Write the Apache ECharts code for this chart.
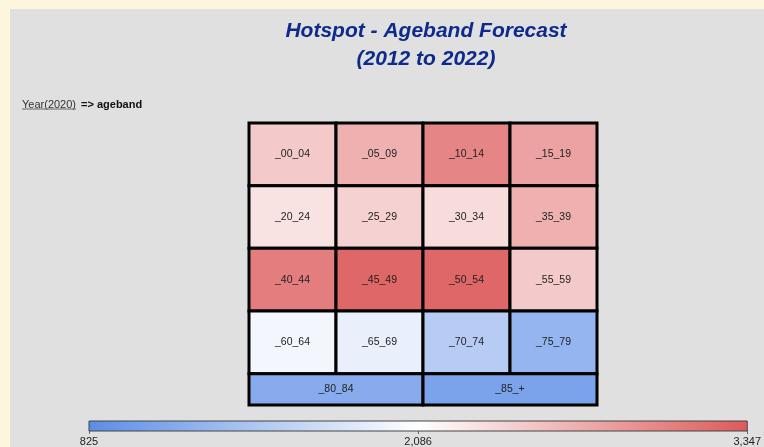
<!DOCTYPE html>
<html>
<head>
<meta charset="utf-8">
<script src="https://cdn.jsdelivr.net/npm/echarts@6/dist/echarts.min.js"></script>
<style>
html,body{margin:0;padding:0;background:#fdf5dc;}
#c{width:764px;height:447px;}
</style>
</head>
<body>
<div id="c"></div>
<script>
// ---- data ----
const ageBands = ['_00_04','_05_09','_10_14','_15_19',
                  '_20_24','_25_29','_30_34','_35_39',
                  '_40_44','_45_49','_50_54','_55_59',
                  '_60_64','_65_69','_70_74','_75_79',
                  '_80_84','_85_+'];
const values = [2500, 2690, 3020, 2800,
                2310, 2440, 2360, 2690,
                3070, 3250, 3250, 2500,
                1990, 1915, 1525, 1265,
                1160, 1065];
const scaleMin = 825;
const scaleMax = 3347;
const scaleTicks = [825, 2086, 3347];
const rampColors = ['#5b8de6', '#ffffff', '#dd5a5a'];

// ---- layout of the hotspot cells (4 per row, last row of 2 wide half-height cells) ----
const cellData = ageBands.map((name, i) => {
  if (i < 16) return [i % 4, Math.floor(i / 4), 1, 1, values[i], name];
  return [(i - 16) * 2, 4, 2, 0.5, values[i], name];
});

const chart = echarts.init(document.getElementById('c'), null, {renderer: 'canvas'});
const fmt = v => Math.round(v).toLocaleString('en-US');

chart.setOption({
  backgroundColor: '#fdf5dc',
  animation: false,
  graphic: [
    {type: 'rect', z: -10, left: 10, top: 9, shape: {width: 800, height: 500}, style: {fill: '#e0e0e0'}},
    {type: 'line', z: 10, shape: {x1: 22, y1: 109, x2: 76, y2: 109}, style: {stroke: '#666', lineWidth: 1}}
  ],
  title: [
    {
      text: 'Hotspot - Ageband Forecast\n(2012 to 2022)',
      left: 421, top: 12, textAlign: 'center',
      textStyle: {fontFamily: 'Liberation Sans, Arial', fontSize: 21, fontWeight: 'bold', fontStyle: 'italic', color: '#0e2a8c', lineHeight: 28}
    },
    {
      text: '{u|Year(2020)} {b|=> ageband}',
      left: 17, top: 91,
      textStyle: {
        fontWeight: 'normal',
        rich: {
          u: {fontFamily: 'Liberation Sans, Arial', fontSize: 11, fontWeight: 'normal', color: '#333'},
          b: {fontFamily: 'Liberation Sans, Arial', fontSize: 11, fontWeight: 'bold', color: '#111'}
        }
      }
    }
  ],
  visualMap: {
    type: 'continuous', show: false, min: scaleMin, max: scaleMax,
    dimension: 4, seriesIndex: 0, inRange: {color: rampColors}
  },
  grid: [
    {left: 249, top: 123, width: 348, height: 282},
    {left: 89, top: 421, width: 668, height: 10}
  ],
  xAxis: [
    {gridIndex: 0, type: 'value', min: 0, max: 4, show: false},
    {gridIndex: 1, type: 'value', min: scaleMin, max: scaleMax, interval: 1261,
     axisLine: {show: false}, splitLine: {show: false},
     axisTick: {show: true, length: 3, lineStyle: {color: '#666'}},
     axisLabel: {margin: 5, fontFamily: 'Liberation Sans, Arial', fontSize: 11, color: '#222',
                 formatter: v => scaleTicks.includes(v) ? fmt(v) : ''}}
  ],
  yAxis: [
    {gridIndex: 0, type: 'value', min: 0, max: 4.5, inverse: true, show: false},
    {gridIndex: 1, type: 'value', min: 0, max: 1, show: false}
  ],
  series: [
    {
      type: 'custom', xAxisIndex: 0, yAxisIndex: 0,
      data: cellData,
      renderItem: (params, api) => {
        const c = api.value(0), r = api.value(1), w = api.value(2), h = api.value(3);
        const p0 = api.coord([c, r]);
        const p1 = api.coord([c + w, r + h]);
        return {
          type: 'rect',
          shape: {x: p0[0], y: p0[1], width: p1[0] - p0[0], height: p1[1] - p0[1]},
          style: {fill: api.visual('color'), stroke: '#000', lineWidth: 3},
          textContent: {style: {text: cellData[params.dataIndex][5], fill: '#222', fontFamily: 'Liberation Sans, Arial', fontSize: 10.5}},
          textConfig: {position: 'inside'}
        };
      }
    },
    {
      type: 'custom', xAxisIndex: 1, yAxisIndex: 1,
      data: [[scaleMin, 0, scaleMax, 1]],
      renderItem: (params, api) => {
        const p0 = api.coord([api.value(0), api.value(3)]);
        const p1 = api.coord([api.value(2), api.value(1)]);
        return {
          type: 'rect',
          shape: {x: p0[0], y: p0[1], width: p1[0] - p0[0], height: p1[1] - p0[1]},
          style: {
            fill: new echarts.graphic.LinearGradient(0, 0, 1, 0, [
              {offset: 0, color: rampColors[0]},
              {offset: 0.5, color: rampColors[1]},
              {offset: 1, color: rampColors[2]}
            ]),
            stroke: '#444', lineWidth: 1
          }
        };
      }
    }
  ]
});
</script>
</body>
</html>
